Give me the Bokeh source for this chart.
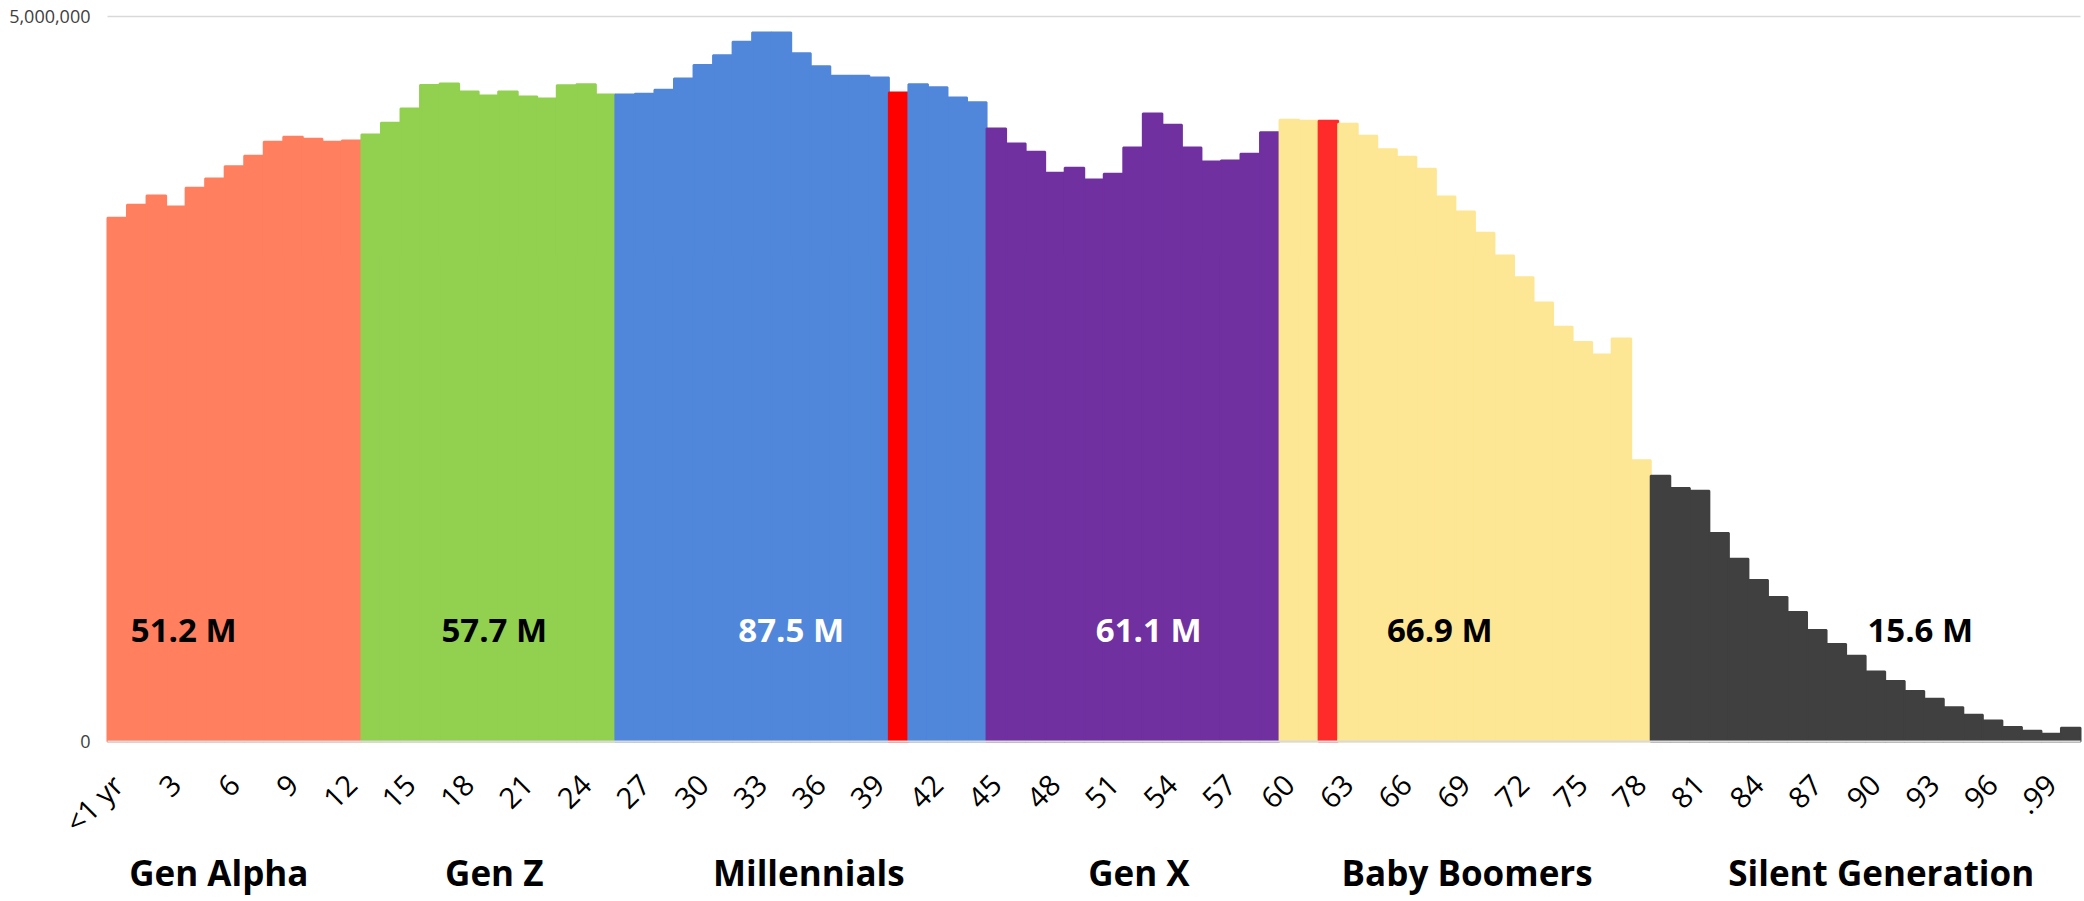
import math
from bokeh.plotting import figure
from bokeh.models import Range1d, ColumnDataSource
from bokeh.core.properties import value
from bokeh.embed import file_html
from bokeh.resources import INLINE

# ---------------- data ----------------
ages = list(range(101))  # 0 (<1 yr) .. 100
population_millions = [
    3.612, 3.702, 3.766, 3.689, 3.819, 3.883, 3.967, 4.040, 4.137, 4.171, 4.157, 4.137, 4.144,
    4.187, 4.268, 4.365, 4.528, 4.538, 4.482, 4.455, 4.482, 4.448, 4.435, 4.525, 4.532, 4.462,
    4.462, 4.468, 4.495, 4.572, 4.666, 4.732, 4.826, 4.890, 4.890, 4.746, 4.656, 4.592, 4.592,
    4.579, 4.475, 4.532, 4.512, 4.441, 4.408,
    4.227, 4.124, 4.067, 3.923, 3.957, 3.876, 3.916, 4.097, 4.331, 4.254, 4.097, 4.000, 4.007,
    4.054, 4.201,
    4.288, 4.281, 4.281, 4.261, 4.177, 4.084, 4.033, 3.950, 3.759, 3.656, 3.508, 3.351, 3.201,
    3.027, 2.860, 2.756, 2.669, 2.779, 1.940,
    1.833, 1.749, 1.729, 1.438, 1.261, 1.114, 0.997, 0.893, 0.769, 0.672, 0.592, 0.482, 0.418,
    0.348, 0.294, 0.237, 0.184, 0.144, 0.100, 0.074, 0.054, 0.094,
]

generations = ["Gen Alpha", "Gen Z", "Millennials", "Gen X", "Baby Boomers", "Silent Generation"]
gen_first_age = [0, 13, 26, 45, 60, 79]
gen_last_age = [12, 25, 44, 59, 78, 100]
gen_totals = ["51.2 M", "57.7 M", "87.5 M", "61.1 M", "66.9 M", "15.6 M"]

highlight_ages = [40, 62]

tick_ages = [0, 3, 6, 9, 12, 15, 18, 21, 24, 27, 30, 33, 36, 39, 42, 45, 48, 51, 54, 57,
             60, 63, 66, 69, 72, 75, 78, 81, 84, 87, 90, 93, 96, 99]
tick_labels = ["<1 yr", "3", "6", "9", "12", "15", "18", "21", "24", "27", "30", "33", "36",
               "39", "42", "45", "48", "51", "54", "57", "60", "63", "66", "69", "72", "75",
               "78", "81", "84", "87", "90", "93", "96", ".99"]

y_tick_values = [0, 5_000_000]

# ---------------- styles / layout ----------------
gen_colors = ["#FF7F5F", "#92D050", "#5087DA", "#7030A0", "#FDE694", "#404040"]
highlight_colors = ["#FF0000", "#FF2A2A"]
total_text_colors = ["black", "black", "white", "white", "black", "black"]
total_label_x = [3.4, 19.3, 34.5, 52.8, 67.7, 92.3]
total_label_y = 0.77e6
gen_label_x = [5.2, 19.3, 35.4, 52.3, 69.1, 90.3]
gen_label_y = -0.905e6
tick_label_y = -0.262e6
y_label_x = -1.37
x_scale = (-5.977, 100.705)     # plot area widened so the slanted first label is not cut
y_scale = (-1.1034e6, 5.1103e6)

# ---------------- build ----------------
bar_colors = []
for a in ages:
    c = None
    for g in range(len(generations)):
        if gen_first_age[g] <= a <= gen_last_age[g]:
            c = gen_colors[g]
    if a in highlight_ages:
        c = highlight_colors[highlight_ages.index(a)]
    bar_colors.append(c)

bars = ColumnDataSource(dict(age=ages,
                             pop=[v * 1e6 for v in population_millions],
                             color=bar_colors))
totals = ColumnDataSource(dict(x=total_label_x,
                               y=[total_label_y] * len(gen_totals),
                               text=gen_totals,
                               color=total_text_colors))
ticks_src = ColumnDataSource(dict(x=tick_ages,
                                  y=[tick_label_y] * len(tick_ages),
                                  text=tick_labels))
gens_src = ColumnDataSource(dict(x=gen_label_x,
                                 y=[gen_label_y] * len(generations),
                                 text=generations))
yticks_src = ColumnDataSource(dict(x=[y_label_x] * len(y_tick_values),
                                   y=y_tick_values,
                                   text=[f"{v:,}" for v in y_tick_values]))

first_edge = ages[0] - 0.5
last_edge = ages[-1] + 0.5

p = figure(width=2084, height=901, output_backend="svg", toolbar_location=None,
           x_range=Range1d(*x_scale), y_range=Range1d(*y_scale),
           x_axis_location=None, y_axis_location=None,
           min_border_left=0, min_border_right=0, min_border_top=0, min_border_bottom=0)
p.outline_line_color = None
p.background_fill_color = "white"
p.border_fill_color = "white"
p.grid.visible = False

# gridline at the top value and light baseline
p.segment(x0=[first_edge], x1=[last_edge], y0=[y_tick_values[1]], y1=[y_tick_values[1]],
          line_color="#D9D9D9", line_width=1.5)

p.vbar(x="age", top="pop", width=1.0, source=bars,
       fill_color="color", line_color="color", line_width=2)

p.segment(x0=[first_edge], x1=[last_edge], y0=[y_tick_values[0]], y1=[y_tick_values[0]],
          line_color="#D9D9D9", line_width=2)

# value-axis labels
p.text(x="x", y="y", text="text", source=yticks_src, text_color="#404040",
       text_font=value("Open Sans"), text_font_size="18px",
       text_align="right", text_baseline="middle")

# generation totals
p.text(x="x", y="y", text="text", source=totals, text_color="color",
       text_font=value("Open Sans"), text_font_style="bold", text_font_size="33px",
       text_align="center", text_baseline="middle")

# rotated age labels
p.text(x="x", y="y", text="text", source=ticks_src, angle=math.pi / 4,
       text_color="black", text_font=value("Open Sans"), text_font_size="29px",
       text_align="right", text_baseline="middle")

# generation names
p.text(x="x", y="y", text="text", source=gens_src, text_color="black",
       text_font=value("Open Sans"), text_font_style="bold", text_font_size="35px",
       text_align="center", text_baseline="alphabetic")

open("out.html", "w").write(file_html(p, INLINE))
